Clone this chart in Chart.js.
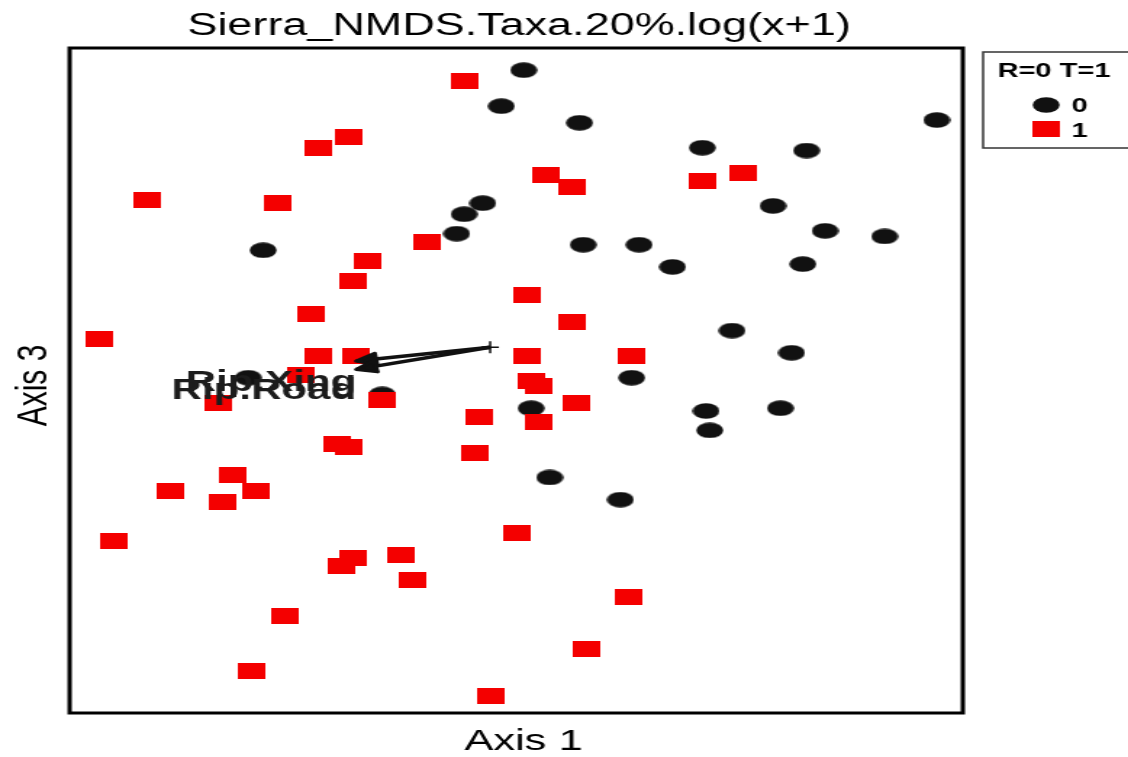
<!DOCTYPE html>
<html>
<head>
<meta charset="utf-8">
<script src="https://cdn.jsdelivr.net/npm/chart.js@4/dist/chart.umd.min.js"></script>
<style>
  html, body { margin: 0; padding: 0; background: #fff; overflow: hidden; }
  #wrap { width: 778px; height: 757px; transform: scaleX(1.45); transform-origin: 0 0; }
</style>
</head>
<body>
<div id="wrap"><canvas id="nmds" width="778" height="757"></canvas></div>
<script>
// NMDS scores (axis 1 / axis 3)
const group0X = [0.02, -0.04, 0.17, 1.13, 0.50, 0.78, 0.69, -0.09, -0.14, -0.16, -0.68, 0.18, 0.33, 0.83,
                 0.99, 0.42, 0.77, 0.58, 0.74, 0.31, -0.72, -0.36, 0.04, 0.51, 0.71, 0.52, 0.09, 0.28];
const group0Y = [1.12, 0.99, 0.93, 0.94, 0.84, 0.83, 0.63, 0.64, 0.60, 0.53, 0.47, 0.49, 0.49, 0.54,
                 0.52, 0.41, 0.42, 0.18, 0.10, 0.01, 0.01, -0.05, -0.10, -0.11, -0.10, -0.18, -0.35, -0.43];

const group1X = [-0.14, -0.45, -0.53, -0.99, -0.64, 0.08, 0.15, 0.50, 0.61, -0.24, -0.40, -0.44, -0.55, -1.12,
                 0.03, 0.15, -0.53, -0.43, 0.03, 0.31, -0.58, 0.04, 0.06, -0.80, -0.36, 0.16, -0.10, 0.06,
                 -0.11, -0.48, -0.45, -0.76, -0.93, -0.70, -0.79, -1.08, 0.00, -0.44, -0.47, -0.31, -0.28,
                 0.30, -0.62, 0.19, -0.71, -0.07];
const group1Y = [1.08, 0.88, 0.84, 0.65, 0.64, 0.74, 0.70, 0.72, 0.75, 0.50, 0.43, 0.36, 0.24, 0.15,
                 0.31, 0.21, 0.09, 0.09, 0.09, 0.09, 0.02, 0.00, -0.02, -0.08, -0.07, -0.08, -0.13, -0.15,
                 -0.26, -0.23, -0.24, -0.34, -0.40, -0.40, -0.44, -0.58, -0.55, -0.64, -0.67, -0.63, -0.72,
                 -0.78, -0.85, -0.97, -1.05, -1.14];

// fitted vectors
const vectorNames = ['Rip.Xing', 'Rip.Road'];
const vectorX = [-0.43, -0.43];
const vectorY = [0.07, 0.04];
const originX = -0.07;
const originY = 0.12;

const groupNames = ['0', '1'];
const legendTitle = 'R=0 T=1';
const FONT = "'Liberation Sans', Arial, sans-serif";

function makeMarker(shape, color) {
    const c = document.createElement('canvas');
    c.width = 19; c.height = 16;
    const g = c.getContext('2d');
    g.fillStyle = color;
    if (shape === 'ellipse') {
        g.beginPath();
        g.ellipse(9.5, 8, 9.3, 7.8, 0, 0, Math.PI * 2);
        g.fill();
    } else {
        g.fillRect(0, 0, 19, 16);
    }
    return c;
}
const dotMarker = makeMarker('ellipse', '#111111');
const boxMarker = makeMarker('rect', '#f40000');

function pts(xs, ys) {
    return xs.map((x, i) => ({ x: x, y: ys[i] }));
}

const arrowSets = vectorNames.map((name, i) => ({
    label: name,
    data: [{ x: originX, y: originY }, { x: vectorX[i], y: vectorY[i] }],
    showLine: true,
    borderColor: '#111',
    borderWidth: 3.5,
    pointRadius: 0
}));

const extras = {
    id: 'extras',
    afterDatasetsDraw(chart) {
        const ctx = chart.ctx;
        const xs = chart.scales.x, ys = chart.scales.y;
        const ox = xs.getPixelForValue(originX), oy = ys.getPixelForValue(originY);
        ctx.save();
        ctx.strokeStyle = '#111';
        ctx.fillStyle = '#111';
        ctx.lineWidth = 3;
        ctx.lineJoin = 'round';
        vectorNames.forEach((name, i) => {
            const tx = xs.getPixelForValue(vectorX[i]), ty = ys.getPixelForValue(vectorY[i]);
            const a = Math.atan2(ty - oy, tx - ox);
            ctx.beginPath();
            ctx.moveTo(tx - 15 * Math.cos(a - 0.4), ty - 15 * Math.sin(a - 0.4));
            ctx.lineTo(tx, ty);
            ctx.lineTo(tx - 15 * Math.cos(a + 0.4), ty - 15 * Math.sin(a + 0.4));
            ctx.closePath();
            ctx.fill();
            ctx.stroke();
        });
        ctx.fillStyle = '#1c1c1c';
        ctx.font = 'bold 29px ' + FONT;
        ctx.textAlign = 'right';
        ctx.textBaseline = 'alphabetic';
        vectorNames.forEach((name, i) => {
            const tx = xs.getPixelForValue(vectorX[i]), ty = ys.getPixelForValue(vectorY[i]);
            ctx.fillText(name, tx, ty + 30);
        });
        ctx.restore();
    },
    afterDraw(chart) {
        const ctx = chart.ctx;
        const area = chart.chartArea;
        ctx.save();
        // plot frame
        ctx.strokeStyle = '#000';
        ctx.lineWidth = 3;
        ctx.strokeRect(area.left, area.top, area.right - area.left, area.bottom - area.top);

        const cx = (area.left + area.right) / 2;
        ctx.fillStyle = '#000';
        ctx.textAlign = 'center';
        ctx.textBaseline = 'alphabetic';
        ctx.font = '31px ' + FONT;
        ctx.fillText('Sierra_NMDS.Taxa.20%.log(x+1)', cx + 2, 35);
        ctx.font = '30px ' + FONT;
        ctx.fillText('Axis 1', cx + 5, 750);

        ctx.save();
        ctx.translate(32, (area.top + area.bottom) / 2);
        ctx.rotate(-Math.PI / 2);
        ctx.fillText('Axis 3', -5, 0);
        ctx.restore();

        // legend
        ctx.strokeStyle = '#333';
        ctx.lineWidth = 1.5;
        ctx.strokeRect(678, 52, 200, 96);
        ctx.textAlign = 'left';
        ctx.font = 'bold 20px ' + FONT;
        ctx.fillText(legendTitle, 688, 77);
        ctx.drawImage(dotMarker, 712, 97);
        ctx.drawImage(boxMarker, 712, 121);
        ctx.fillText(groupNames[0], 739, 112);
        ctx.fillText(groupNames[1], 739, 137);
        ctx.restore();
    }
};

new Chart(document.getElementById('nmds'), {
    type: 'scatter',
    data: {
        datasets: [
            ...arrowSets,
            {
                label: 'origin',
                data: [{ x: originX, y: originY }],
                pointStyle: 'cross',
                pointRadius: 6,
                borderColor: '#111',
                borderWidth: 1.5
            },
            {
                label: groupNames[1],
                data: pts(group1X, group1Y),
                pointStyle: boxMarker,
                pointRadius: 9
            },
            {
                label: groupNames[0],
                data: pts(group0X, group0Y),
                pointStyle: dotMarker,
                pointRadius: 9
            }
        ]
    },
    options: {
        responsive: false,
        animation: false,
        devicePixelRatio: 1,
        layout: { padding: { left: 48, right: 114, top: 48, bottom: 44 } },
        scales: {
            x: { type: 'linear', min: -1.2, max: 1.2, display: false },
            y: { type: 'linear', min: -1.2, max: 1.2, display: false }
        },
        plugins: {
            legend: { display: false },
            tooltip: { enabled: false }
        }
    },
    plugins: [extras]
});
</script>
</body>
</html>
